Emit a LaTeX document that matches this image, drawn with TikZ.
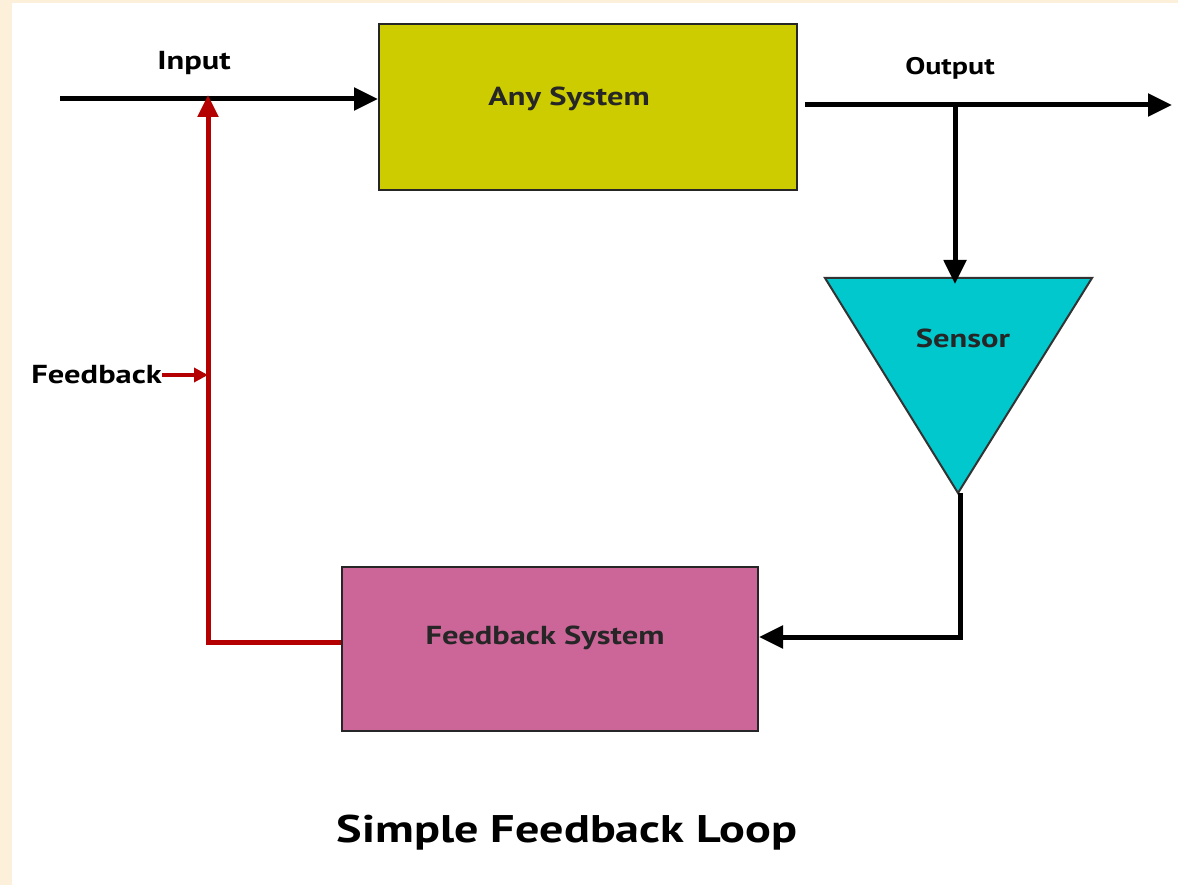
\documentclass[tikz,border=0pt]{standalone}
\usepackage{fontspec}
\setmainfont{PT Sans}[FakeStretch=1.25]
\usetikzlibrary{arrows.meta}
\definecolor{cream}{RGB}{252,240,218}
\definecolor{sysyellow}{RGB}{204,204,0}
\definecolor{senscyan}{RGB}{0,200,204}
\definecolor{fbpink}{RGB}{204,102,153}
\definecolor{fbred}{RGB}{180,0,0}
\tikzset{
  blk/.style={draw=black!85, line width=2pt, rectangle, inner sep=0pt},
  lbl/.style={font=\bfseries\fontsize{26}{28}\selectfont, inner sep=0pt},
  boxlbl/.style={font=\bfseries\fontsize{26}{28}\selectfont, text=black!85, inner sep=0pt},
  conn/.style={line width=5pt, draw=black},
  redconn/.style={line width=5pt, draw=fbred},
  tip/.style={-{Triangle[length=24pt,width=22pt]}},
}
\begin{document}
\begin{tikzpicture}[x=1pt,y=-1pt]
\useasboundingbox (0,0) rectangle (1178,885);
\fill[cream] (0,0) rectangle (1178,885);
\fill[white] (12,3) rectangle (1178,885);
% blocks
\node[blk, fill=sysyellow, minimum width=418pt, minimum height=166pt] (anysys) at (588,107) {};
\node[boxlbl] (anysyslbl) at (569,99) {Any System};
\node[blk, fill=fbpink, minimum width=416pt, minimum height=164pt] (fbsys) at (550,649) {};
\node[boxlbl] (fbsyslbl) at (545,638) {Feedback System};
% sensor triangle
\coordinate (stl) at (825,278);
\coordinate (str) at (1092,278);
\coordinate (stip) at (958,493);
\coordinate (stop) at (955,278);
\filldraw[fill=senscyan, draw=black!80, line width=2pt, line join=miter] (stl) -- (str) -- (stip) -- cycle;
\node[boxlbl] (sensor) at (963,338) {Sensor};
% labels
\node[lbl] (inlbl) at (194,63) {Input};
\node[lbl, font=\bfseries\fontsize{24}{26}\selectfont] (outlbl) at (950,68) {Output};
\node[lbl, anchor=east] (fblbl) at (162,375) {Feedback};
\node[font=\bfseries\fontsize{38.5}{42}\selectfont, inner sep=0pt] (title) at (567,833) {Simple Feedback Loop};
% coordinates
\coordinate (inS) at (60,99);
\coordinate (inJ) at (208,99);
\coordinate (outS) at (805,105);
\coordinate (outE) at (1172,105);
\coordinate (outJ) at (955,105);
\coordinate (sB) at (960,493);
\coordinate (sC) at (960,637);
\coordinate (fbC) at (208,642);
% connectors
\draw[conn, tip] (inS) -- (anysys.west |- inS);
\draw[conn, tip] (outS) -- (outE);
\draw[conn, tip] (outJ) -- ([yshift=-6pt]stop);
\draw[conn, tip, line join=miter] (sB) -- (sC) -- (fbsys.east |- sC);
\draw[redconn, -{Triangle[length=22pt,width=20pt]}, line join=miter] (fbsys.west |- fbC) -- (fbC) -- ([yshift=4pt]inJ);
\draw[redconn, line width=4pt, -{Triangle[length=14pt,width=14pt]}] (fblbl.east) -- (fblbl.east -| inJ);
\end{tikzpicture}
\end{document}
